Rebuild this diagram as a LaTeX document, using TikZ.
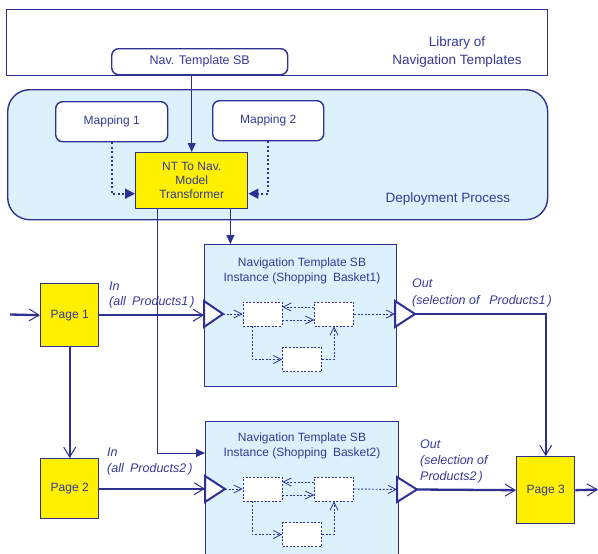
\documentclass[tikz,border=0pt]{standalone}
\usepackage{fontspec}
\setmainfont{Liberation Sans}
\usetikzlibrary{arrows.meta}
\definecolor{navy}{RGB}{46,49,146}
\definecolor{ink}{RGB}{52,56,150}
\definecolor{paleblue}{RGB}{221,241,252}
\definecolor{pageyellow}{RGB}{255,240,0}

\tikzset{
  txt/.style={text=ink, font=\fontsize{12}{15}\selectfont, inner sep=0pt},
  lbl/.style={txt, font=\fontsize{12.5}{15}\selectfont\itshape, align=left, anchor=west},
  plainbox/.style={draw=navy, line width=1.4pt, fill=white, inner sep=0pt, anchor=north west, txt, align=center},
  roundbox/.style={plainbox, rounded corners=7pt},
  pagebox/.style={plainbox, fill=pageyellow},
  basket/.style={draw=navy, line width=1.4pt, fill=paleblue, inner sep=0pt, anchor=north west},
  cell/.style={draw=navy, line width=0.9pt, dash pattern=on 2pt off 1.6pt, fill=white,
               minimum width=39pt, minimum height=24pt, inner sep=0pt},
  port/.style={draw=navy, line width=2pt, fill=white, line join=miter},
  mainflow/.style={draw=navy, line width=2.3pt,
                   -{Straight Barb[length=10pt, width=12pt, line width=1pt]}},
  feed/.style={draw=navy, line width=1pt, -{Triangle[length=9pt, width=8pt]}},
  mapflow/.style={draw=navy, line width=1.8pt, dash pattern=on 2pt off 2.4pt,
                  -{Triangle[length=10pt, width=10pt]}},
  innerflow/.style={draw=navy, line width=0.9pt, dash pattern=on 2pt off 1.6pt,
                    -{Straight Barb[length=8pt, width=8pt, line width=0.8pt]}},
}

% dotted component network inside a basket instance
% #1 = suffix, #2 = port apex coordinate, #3 = out port base coordinate
\newcommand\basketnet[3]{%
  \node[cell] (A#1) at (262.5,0) {};
  \node[cell] (B#1) at (334,0) {};
  \node[cell] (C#1) at (302,45.5) {};
  \draw[innerflow] (#2) -- (A#1.west);
  \draw[innerflow] ([yshift=7pt]B#1.west) -- ([yshift=7pt]A#1.east);
  \draw[innerflow] ([yshift=-6pt]A#1.east) -- ([yshift=-6pt]B#1.west);
  \draw[innerflow] (B#1.east) -- (#3);
  \draw[innerflow] ([xshift=-10.5pt]A#1.south) |- (C#1.west);
  \draw[innerflow] (C#1.east) -| (B#1.south);
}

\begin{document}
\begin{tikzpicture}[x=1pt, y=-1pt]
\useasboundingbox (0,0) rectangle (598,554);
\clip (0,0) rectangle (598,554);

% template library
\node[plainbox, minimum width=541pt, minimum height=66pt] (lib) at (6,9) {};
\node[txt, align=center, font=\fontsize{13.5}{18}\selectfont] (libtxt) at (457,52) {Library of\\Navigation Templates};
\node[roundbox, minimum width=176pt, minimum height=26pt, font=\fontsize{12.5}{15}\selectfont] (navsb) at (111,48) {Nav. Template SB};

% deployment process
\node[basket, rounded corners=22pt, minimum width=540pt, minimum height=130pt] (deploy) at (7,89) {};
\node[txt, font=\fontsize{13.5}{16}\selectfont] (deploytxt) at (448,199) {Deployment Process};
\node[roundbox, minimum width=112pt, minimum height=40pt] (map1) at (55,101) {Mapping 1};
\node[roundbox, minimum width=111pt, minimum height=40pt] (map2) at (212,100) {Mapping 2};
\node[pagebox, minimum width=112pt, minimum height=56pt, font=\fontsize{12}{14}\selectfont] (nt) at (135,152) {NT To Nav.\\Model\\Transformer};

\draw[feed] (navsb.south -| nt.north) -- (nt.north);
\draw[mapflow] (map1.south) |- ([yshift=-13pt]nt.west);
\draw[mapflow] (map2.south) |- ([yshift=-13pt]nt.east);

% basket instances
\node[basket, minimum width=192pt, minimum height=142pt] (sb1) at (204,244) {};
\node[txt, align=center] (sb1txt) at (302,270.5) {Navigation Template SB\\Instance (Shopping\enspace Basket1)};
\node[basket, minimum width=193pt, minimum height=140pt] (sb2) at (205,421) {};
\node[txt, align=center] (sb2txt) at (302,445.5) {Navigation Template SB\\Instance (Shopping\enspace Basket2)};

% transformer outputs
\draw[feed] ([xshift=-18pt]nt.south east) -- ([xshift=-18pt]nt.south east |- sb1.north);
\draw[feed] ([xshift=22pt]nt.south west) |- ([yshift=-32pt]sb2.north west);

% ports
\coordinate (in1) at (204,314);  \coordinate (in1tip) at (223,314);
\coordinate (out1) at (395,314); \coordinate (out1tip) at (415,314);
\coordinate (in2) at (205,489);  \coordinate (in2tip) at (225,489);
\coordinate (out2) at (397,489.5); \coordinate (out2tip) at (417,489.5);
\draw[port] (204,301) -- (in1tip) -- (204,327) -- cycle;
\draw[port] (395,301) -- (out1tip) -- (395,327) -- cycle;
\draw[port] (205,476) -- (in2tip) -- (205,502) -- cycle;
\draw[port] (397,477) -- (out2tip) -- (397,502) -- cycle;

\begin{scope}[shift={(0,314)}]
  \basketnet{1}{in1tip}{out1}
\end{scope}
\begin{scope}[shift={(0,489)}]
  \basketnet{2}{in2tip}{out2}
\end{scope}

% pages
\node[pagebox, minimum width=58pt, minimum height=63pt] (page1) at (40,283) {Page 1};
\node[pagebox, minimum width=58pt, minimum height=60pt] (page2) at (40,458) {Page 2};
\node[pagebox, minimum width=58pt, minimum height=67pt] (page3) at (516,456) {Page 3};

\coordinate (src) at (10,314.5);
\coordinate (sink) at (598,489.5);
\draw[mainflow] (src) -- (page1.west);
\draw[mainflow] (page1.south) -- (page2.north);
\draw[mainflow] (page1.east) -- (page1.east -| in1);
\draw[mainflow] (page2.east) -- (page2.east -| in2);
\draw[mainflow] (out1tip) -| (page3.north);
\draw[mainflow] (out2tip) -- (page3.west);
\draw[mainflow] (page3.east) -- (sink);

% flow labels
\node[lbl] (in1lbl) at (109,294.5) {In\\(all\enspace Products1\,)};
\node[lbl, font=\fontsize{12.5}{17}\selectfont\itshape] (out1lbl) at (412,292.5) {Out\\(selection of\enspace\ Products1\,)};
\node[lbl, font=\fontsize{12.5}{16}\selectfont\itshape] (in2lbl) at (107,461) {In\\(all\enspace Products2\,)};
\node[lbl, font=\fontsize{12.5}{16}\selectfont\itshape] (out2lbl) at (420,461) {Out\\(selection of\\Products2\,)};
\end{tikzpicture}
\end{document}
